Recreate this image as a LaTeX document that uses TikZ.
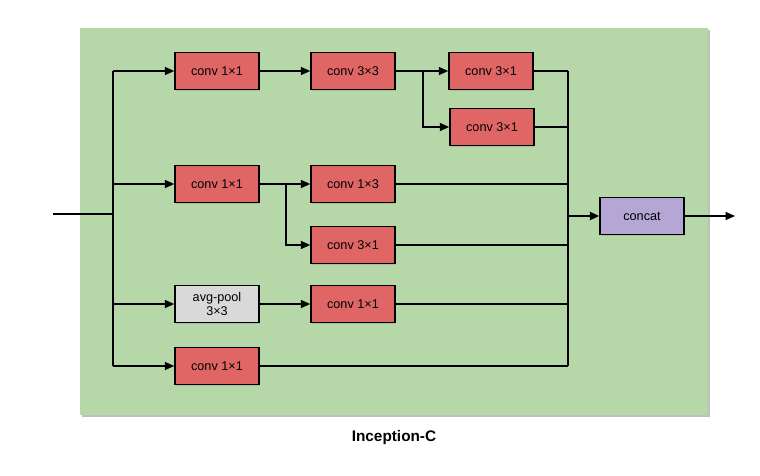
\documentclass[tikz,border=0pt]{standalone}
\usepackage{fontspec}
\setmainfont{Liberation Sans}
\usetikzlibrary{arrows.meta,shadows}

\definecolor{blockgreen}{HTML}{B6D7A8}
\definecolor{convred}{HTML}{E06666}
\definecolor{poolgray}{HTML}{D9D9D9}
\definecolor{concatpurple}{HTML}{B4A7D6}

\tikzset{
  layer/.style={draw=black, line width=1.2pt, minimum width=63pt, minimum height=28pt,
    inner sep=1pt, align=center, font=\fontsize{9.5}{11}\selectfont,
    drop shadow={shadow xshift=0.8pt, shadow yshift=-0.8pt, opacity=0.25}},
  conv/.style={layer, fill=convred},
  pool/.style={layer, fill=poolgray},
  merge/.style={layer, fill=concatpurple},
  wire/.style={line width=1pt},
}

\begin{document}
\begin{tikzpicture}[x=0.75pt, y=-0.75pt, >={Triangle[length=7pt,width=6pt]}]
    \useasboundingbox (0,0) rectangle (760,475);

    % Green module background
    \fill[black!25] (82,30) rectangle (710,417);
    \fill[blockgreen] (80,28) rectangle (708,415);

    % Branch 1: 1x1 -> 3x3 -> {3x1, 3x1}
    \node[conv] (c11a) at (217,71) {conv 1×1};
    \node[conv] (c33) at (353,71) {conv 3×3};
    \node[conv] (c31a) at (491,71) {conv 3×1};
    \node[conv] (c31b) at (492,127) {conv 3×1};

    % Branch 2: 1x1 -> {1x3, 3x1}
    \node[conv] (c11b) at (217,184) {conv 1×1};
    \node[conv] (c13) at (353,184) {conv 1×3};
    \node[conv] (c31c) at (353,245) {conv 3×1};

    % Branch 3: pool -> 1x1
    \node[pool] (avg) at (217,304) {avg-pool\\3×3};
    \node[conv] (c11c) at (353,304) {conv 1×1};

    % Branch 4: 1x1
    \node[conv] (c11d) at (217,366) {conv 1×1};

    % Concat
    \node[merge] (cat) at (642,216) {concat};

    % Split and merge points
    \coordinate (in) at (53,214);
    \coordinate (split) at (113,214);
    \coordinate (fork1) at (423,71);
    \coordinate (fork2) at (286,184);
    \coordinate (join) at (568,216);
    \coordinate (out) at (735,216);

    % Input and splitting
    \draw[line width=2pt] (in) -- (split);
    \draw[wire] (split |- c11a) -- (split |- c11d);
    \foreach \b in {c11a, c11b, avg, c11d}
        \draw[wire, ->] (split |- \b) -- (\b);

    % Inner connections
    \draw[wire, ->] (c11a) -- (c33);
    \draw[wire, ->] (c33) -- (c31a);
    \draw[wire, ->] (fork1) |- (c31b);
    \draw[wire, ->] (c11b) -- (c13);
    \draw[wire, ->] (fork2) |- (c31c);
    \draw[wire, ->] (avg) -- (c11c);

    % Outputs to concat
    \foreach \b in {c31a, c31b, c13, c31c, c11c, c11d}
        \draw[wire] (\b) -- (\b -| join);
    \draw[wire] (c31a -| join) -- (c11d -| join);
    \draw[line width=2pt, ->] (join) -- (cat);
    \draw[line width=0.8pt, ->] (cat) -- (out);

    % Title
    \node[font=\bfseries\fontsize{11.5}{13}\selectfont] (title) at (394,438) {Inception-C};
\end{tikzpicture}
\end{document}
